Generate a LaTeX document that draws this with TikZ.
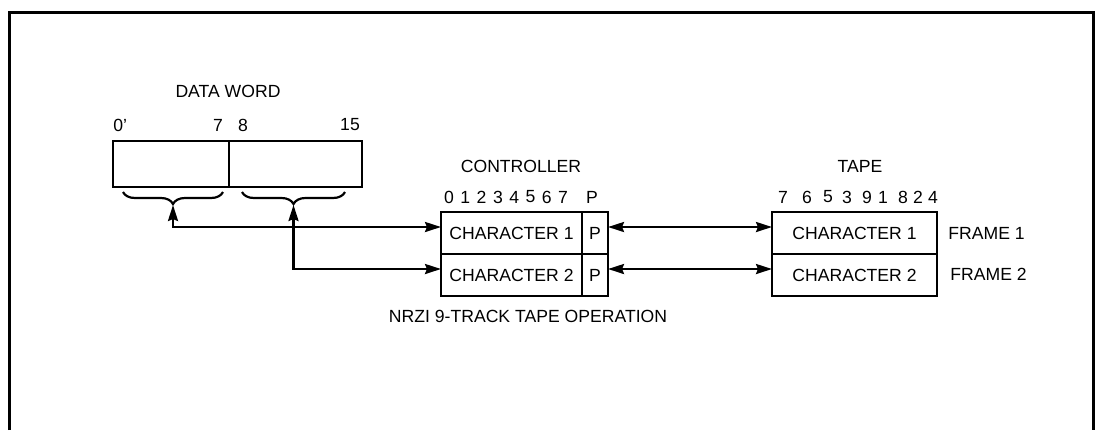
\documentclass[tikz,border=0pt]{standalone}
\usepackage{fontspec}
\setmainfont{Liberation Sans}
\usetikzlibrary{arrows.meta, decorations.pathreplacing}

\begin{document}
\begin{tikzpicture}[x=0.5pt, y=-0.5pt,
        every node/.style={font=\fontsize{8.8pt}{10pt}\selectfont},
        cell/.style={draw, line width=1.4pt, inner sep=0pt, outer sep=0pt, minimum height=21pt},
        lbl/.style={inner sep=0pt},
        link/.style={{Stealth[length=8pt, width=5pt, inset=1pt]}-{Stealth[length=8pt, width=5pt, inset=1pt]}, line width=1.2pt},
        brc/.style={decorate, decoration={brace, mirror, amplitude=6pt}, line width=1.1pt}
    ]
        \useasboundingbox (0,0) rectangle (1095,430);

        % Outer frame (open at the bottom)
        \draw[line width=1.5pt] (9,430) -- (9,12) -- (1093,12) -- (1093,430);

        % Data word
        \node[lbl] (dwtitle) at (228,91) {DATA WORD};
        \node[cell, minimum width=58pt, minimum height=23pt] (dwlo) at (171,164) {};
        \node[cell, minimum width=66.5pt, minimum height=23pt] (dwhi) at (295.5,164) {};
        \node[lbl, anchor=west] (b0) at (113,125) {0'};
        \node[lbl] (b7) at (218,125) {7};
        \node[lbl] (b8) at (243,125) {8};
        \node[lbl] (b15) at (350,125) {15};

        % Braces under the two bytes
        \draw[brc] (123,192) -- (223,192);
        \draw[brc] (242,192) -- (345,192);
        \coordinate (tiplo) at (173,205);
        \coordinate (tiphi) at (293.5,205);

        % Controller
        \node[lbl] (ctitle) at (521,166) {CONTROLLER};
        \node[cell, minimum width=70.5pt] (c1) at (511.5,233) {CHARACTER 1};
        \node[cell, minimum width=70.5pt] (c2) at (511.5,275) {CHARACTER 2};
        \node[cell, minimum width=13pt] (p1) at (595,233) {P};
        \node[cell, minimum width=13pt] (p2) at (595,275) {P};
        \foreach \i in {0,...,7} {
            \node[lbl] (cb\i) at ({449+16.3*\i},197) {\i};
        }
        \node[lbl] (cbp) at (592,197) {P};
        \node[lbl] (nrzi) at (528,316) {NRZI 9-TRACK TAPE OPERATION};

        % Tape
        \node[lbl] (ttitle) at (860,166) {TAPE};
        \node[cell, minimum width=82.5pt] (t1) at (854.5,233) {CHARACTER 1};
        \node[cell, minimum width=82.5pt] (t2) at (854.5,275) {CHARACTER 2};
        \foreach \d/\x in {7/783, 6/807, 5/828, 3/847, 9/867, 1/883, 8/903, 2/918, 4/933} {
            \node[lbl] (tb\d) at (\x,197) {\d};
        }
        \node[lbl, anchor=west] (f1) at (948,233) {FRAME 1};
        \node[lbl, anchor=west] (f2) at (950,274) {FRAME 2};

        % Connections
        \draw[link] (tiplo) |- ([yshift=3pt]c1.west);
        \draw[link] (tiphi) |- ([yshift=3pt]c2.west);
        \foreach \r in {1,2} {
            \draw[link] ([yshift=3pt]p\r.east) -- ([yshift=3pt]t\r.west);
        }
    \end{tikzpicture}
\end{document}
